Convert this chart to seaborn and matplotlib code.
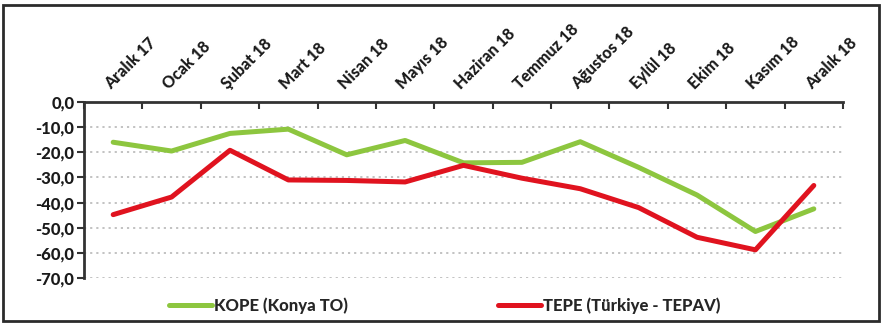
import matplotlib
matplotlib.use("Agg")
import matplotlib.pyplot as plt
from matplotlib.patches import Rectangle
import seaborn as sns
import pandas as pd
import numpy as np

months = ["Aralık 17", "Ocak 18", "Şubat 18", "Mart 18", "Nisan 18", "Mayıs 18",
          "Haziran 18", "Temmuz 18", "Ağustos 18", "Eylül 18", "Ekim 18",
          "Kasım 18", "Aralık 18"]
kope = [-16.0, -19.5, -12.5, -10.8, -21.0, -15.3, -24.2, -24.0, -15.8, -26.0, -37.0, -51.5, -42.5]
tepe = [-44.8, -37.8, -19.2, -31.0, -31.2, -31.8, -25.2, -30.3, -34.5, -42.0, -53.8, -58.8, -33.2]
y_ticks = [0, -10, -20, -30, -40, -50, -60, -70]

label_kope = "KOPE (Konya TO)"
label_tepe = "TEPE (Türkiye - TEPAV)"

df = pd.DataFrame({
    "idx": list(range(len(months))) * 2,
    "value": kope + tepe,
    "series": [label_kope] * len(months) + [label_tepe] * len(months),
})

sns.set_theme(style="white")
plt.rcParams["font.family"] = ["Lato", "DejaVu Sans"]
plt.rcParams["font.weight"] = "bold"
TEXT_WEIGHT = 900

fig = plt.figure(figsize=(8.82, 3.24), dpi=100)
ax = fig.add_axes([84 / 882, 1 - 278 / 324, (843 - 84) / 882, (278 - 102) / 324])

palette = {label_kope: "#8DC63F", label_tepe: "#E0131F"}
sns.lineplot(data=df, x="idx", y="value", hue="series", palette=palette,
             linewidth=3.6, sort=False, ax=ax, legend=True)

ax.set_xlim(-0.5, len(months) - 0.5)
ax.set_ylim(-70, 0)
ax.set_xlabel("")
ax.set_ylabel("")

# dotted horizontal gridlines
for v in y_ticks[1:]:
    ax.axhline(v, color="#BDBDBD", linestyle=(0, (1.2, 2.2)), linewidth=1.3, zorder=0)

# category axis sits at zero, along the top
ax.xaxis.tick_top()
ax.set_xticks(np.arange(len(months)))
ax.set_xticklabels(months, rotation=45, ha="left", va="bottom",
                   rotation_mode="anchor", fontsize=11.5, fontweight=TEXT_WEIGHT, color="#1a1a1a")
ax.tick_params(axis="x", which="major", length=0, pad=7)
ax.set_xticks(np.arange(-0.5, len(months)), minor=True)
ax.tick_params(axis="x", which="minor", direction="in", length=5, width=1.5,
               color="#333333", top=True, bottom=False)

ax.set_yticks(y_ticks)
ax.set_yticklabels([f"{v:.1f}".replace(".", ",") for v in y_ticks],
                   fontsize=12, fontweight=TEXT_WEIGHT, color="#1a1a1a")
ax.tick_params(axis="y", direction="out", length=5, width=1.5, color="#333333",
               left=True, pad=2)

for side in ["right", "bottom"]:
    ax.spines[side].set_visible(False)
for side in ["top", "left"]:
    ax.spines[side].set_color("#333333")
    ax.spines[side].set_linewidth(2.0)

handles, labels = ax.get_legend_handles_labels()
leg = ax.legend(handles, labels, loc="center left", bbox_to_anchor=(169 / 882, 1 - 306 / 324),
                bbox_transform=fig.transFigure, ncol=2, frameon=False,
                handlelength=2.6, handletextpad=0.1, columnspacing=9.0,
                prop={"family": ["Lato", "DejaVu Sans"], "weight": TEXT_WEIGHT, "size": 12},
                borderaxespad=0, borderpad=0)
for line in leg.get_lines():
    line.set_linewidth(3.6)

# chart frame
fig.patches.append(Rectangle((3 / 882, 3 / 324), 876 / 882, 316 / 324,
                             transform=fig.transFigure, fill=False,
                             edgecolor="#2b2b2b", linewidth=2.0))

fig.savefig("out.png", dpi=100)
